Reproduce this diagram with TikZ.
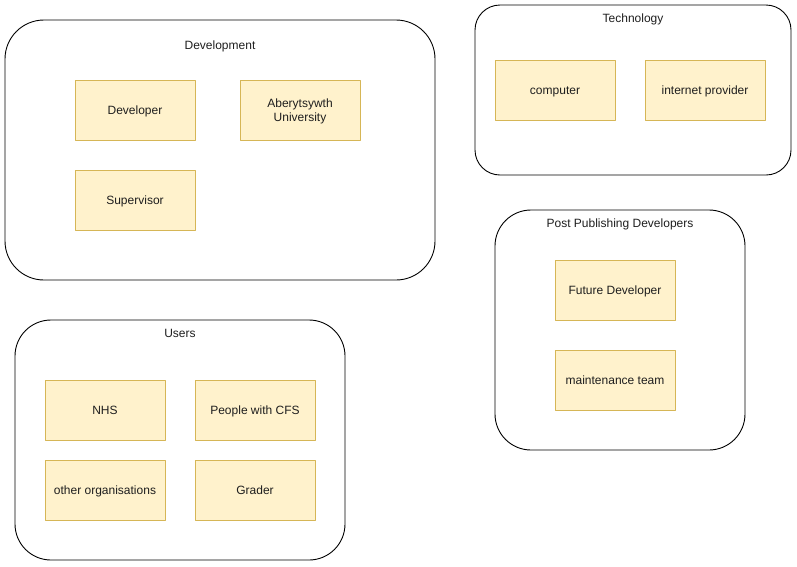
\documentclass[tikz,border=0pt]{standalone}
\usepackage{fontspec}
\setmainfont{Liberation Sans}
\definecolor{fffcc}{RGB}{255,242,204}
\definecolor{dbbbb}{RGB}{214,182,86}
\definecolor{txt}{RGB}{30,30,30}

\begin{document}
\begin{tikzpicture}[line join=round,x=1pt,y=-1pt,
  every node/.style={text=txt,font=\fontsize{12}{14}\selectfont,text height=10pt,text depth=2pt},
  member/.style={draw=dbbbb,fill=fffcc,line width=0.8pt,minimum width=120pt,minimum height=60pt,inner sep=0pt,align=center},
  group/.style={draw=black,line width=0.9pt,inner sep=0pt}]
\useasboundingbox (0,0) rectangle (797,566);
% Development
\node [group,minimum width=430pt,minimum height=260pt,rounded corners=39pt] (dev) at (220,150) {};
\node (devtitle) at (220,45) {Development};
\node [member] (developer) at (135,110) {Developer};
\node [member,text height=25pt] (uni) at (300,110) {Aberytsywth\\University};
\node [member] (supervisor) at (135,200) {Supervisor};
% Technology
\node [group,minimum width=316pt,minimum height=170pt,rounded corners=25pt] (tech) at (633,90) {};
\node (techtitle) at (633,18) {Technology};
\node [member] (computer) at (555,90) {computer};
\node [member] (internet) at (705,90) {internet provider};
% Post Publishing Developers
\node [group,minimum width=250pt,minimum height=240pt,rounded corners=36pt] (post) at (620,330) {};
\node (posttitle) at (620,223) {Post Publishing Developers};
\node [member] (future) at (615,290) {Future Developer};
\node [member] (maint) at (615,380) {maintenance team};
% Users
\node [group,minimum width=330pt,minimum height=240pt,rounded corners=36pt] (users) at (180,440) {};
\node (userstitle) at (180,333) {Users};
\node [member] (nhs) at (105,410) {NHS};
\node [member] (cfs) at (255,410) {People with CFS};
\node [member] (orgs) at (105,490) {other organisations};
\node [member] (grader) at (255,490) {Grader};
\end{tikzpicture}
\end{document}
